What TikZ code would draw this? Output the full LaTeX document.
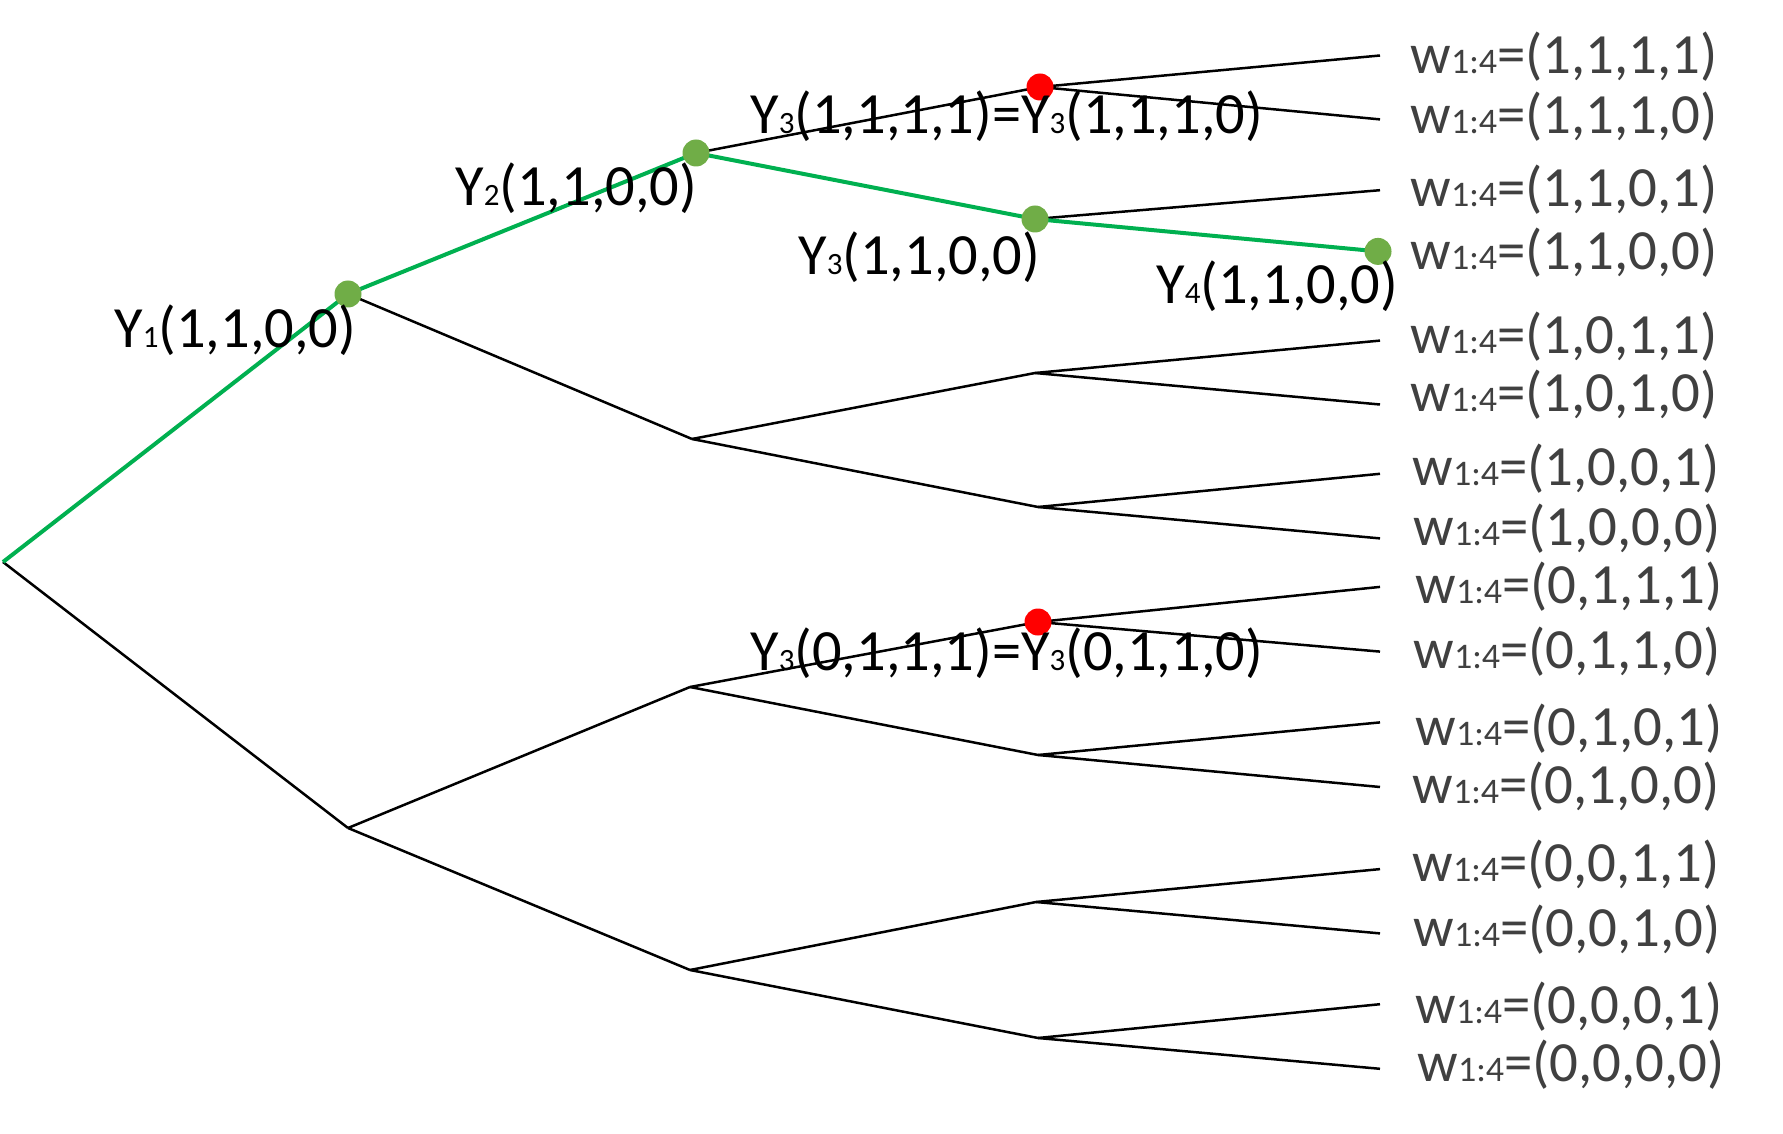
\documentclass[tikz,border=0pt]{standalone}
\usepackage{fontspec}
\setmainfont{Carlito}
\definecolor{pathgreen}{HTML}{00B050}
\definecolor{dotgreen}{HTML}{70AD47}
\definecolor{dotred}{HTML}{FF0000}
\definecolor{wgray}{HTML}{404040}
\newcommand{\ysb}[1]{{\fontsize{15.5}{15.5}\selectfont #1}}
\newcommand{\wsb}[1]{{\fontsize{18}{18}\selectfont #1}}
\begin{document}
\begin{tikzpicture}[x=0.5pt,y=-0.5pt,
  edge/.style={draw=black,line width=1.25pt},
  gedge/.style={draw=pathgreen,line width=2pt},
  gdot/.style={circle,fill=dotgreen,minimum size=13.5pt,inner sep=0pt},
  rdot/.style={circle,fill=dotred,minimum size=13.5pt,inner sep=0pt},
  ylab/.style={anchor=base west,inner sep=0pt,font=\fontsize{29.2}{34}\selectfont,text=black},
  wlab/.style={anchor=base west,inner sep=0pt,font=\fontsize{28.4}{34}\selectfont,text=wgray}]
\useasboundingbox (0,0) rectangle (1783,1134);
% tree points
\coordinate (r) at (3,562);
\coordinate (a1) at (348,294);
\coordinate (a0) at (348,828);
\coordinate (b11) at (696,153);
\coordinate (b10) at (692,439);
\coordinate (b01) at (690,687);
\coordinate (b00) at (690,970);
\coordinate (c111) at (1040,87);
\coordinate (c110) at (1035,219);
\coordinate (c101) at (1035,373);
\coordinate (c100) at (1038,507);
\coordinate (c011) at (1038,622);
\coordinate (c010) at (1038,755);
\coordinate (c001) at (1036,902);
\coordinate (c000) at (1038,1038);
\coordinate (l1111) at (1380,55.5);
\coordinate (l1110) at (1380,119.4);
\coordinate (l1101) at (1380,190.2);
\coordinate (l1100) at (1378,251.4);
\coordinate (l1011) at (1380,340.6);
\coordinate (l1010) at (1380,404.5);
\coordinate (l1001) at (1380,473.8);
\coordinate (l1000) at (1380,538.4);
\coordinate (l0111) at (1380,586.9);
\coordinate (l0110) at (1380,651.6);
\coordinate (l0101) at (1380,722.4);
\coordinate (l0100) at (1380,787);
\coordinate (l0011) at (1380,869.1);
\coordinate (l0010) at (1380,933.4);
\coordinate (l0001) at (1380,1004.2);
\coordinate (l0000) at (1380,1068.8);
% black edges
\draw[edge] (r) -- (a0);
\draw[edge] (a1) -- (b10);
\draw[edge] (a0) -- (b01);
\draw[edge] (a0) -- (b00);
\draw[edge] (b11) -- (c111);
\draw[edge] (b10) -- (c101);
\draw[edge] (b10) -- (c100);
\draw[edge] (b01) -- (c011);
\draw[edge] (b01) -- (c010);
\draw[edge] (b00) -- (c001);
\draw[edge] (b00) -- (c000);
\draw[edge] (c111) -- (l1111);
\draw[edge] (c111) -- (l1110);
\draw[edge] (c110) -- (l1101);
\draw[edge] (c101) -- (l1011);
\draw[edge] (c101) -- (l1010);
\draw[edge] (c100) -- (l1001);
\draw[edge] (c100) -- (l1000);
\draw[edge] (c011) -- (l0111);
\draw[edge] (c011) -- (l0110);
\draw[edge] (c010) -- (l0101);
\draw[edge] (c010) -- (l0100);
\draw[edge] (c001) -- (l0011);
\draw[edge] (c001) -- (l0010);
\draw[edge] (c000) -- (l0001);
\draw[edge] (c000) -- (l0000);
% green path
\draw[gedge,line join=round] (r) -- (a1) -- (b11) -- (c110) -- (l1100);
% dots
\node[gdot] (d1) at (a1) {};
\node[gdot] (d2) at (b11) {};
\node[gdot] (d3) at (c110) {};
\node[gdot] (d4) at (l1100) {};
\node[rdot] (e1) at (c111) {};
\node[rdot] (e2) at (c011) {};
% Y labels
\node[ylab] (y1) at (114,348) {Y\ysb{1}(1,1,0,0)};
\node[ylab] (y2) at (455,206) {Y\ysb{2}(1,1,0,0)};
\node[ylab] (y3a) at (750,134) {Y\ysb{3}(1,1,1,1)=Y\ysb{3}(1,1,1,0)};
\node[ylab] (y3b) at (798,275) {Y\ysb{3}(1,1,0,0)};
\node[ylab] (y4) at (1156,304) {Y\ysb{4}(1,1,0,0)};
\node[ylab] (y3c) at (750,670) {Y\ysb{3}(0,1,1,1)=Y\ysb{3}(0,1,1,0)};
% w labels
\node[wlab] (w1111) at (1410,73.3) {w\wsb{1:4}=(1,1,1,1)};
\node[wlab] (w1110) at (1410,133.3) {w\wsb{1:4}=(1,1,1,0)};
\node[wlab] (w1101) at (1410,206.7) {w\wsb{1:4}=(1,1,0,1)};
\node[wlab] (w1100) at (1410,270) {w\wsb{1:4}=(1,1,0,0)};
\node[wlab] (w1011) at (1410,353.3) {w\wsb{1:4}=(1,0,1,1)};
\node[wlab] (w1010) at (1410,411.7) {w\wsb{1:4}=(1,0,1,0)};
\node[wlab] (w1001) at (1412,485) {w\wsb{1:4}=(1,0,0,1)};
\node[wlab] (w1000) at (1413,545) {w\wsb{1:4}=(1,0,0,0)};
\node[wlab] (w0111) at (1415,603.3) {w\wsb{1:4}=(0,1,1,1)};
\node[wlab] (w0110) at (1413,668.3) {w\wsb{1:4}=(0,1,1,0)};
\node[wlab] (w0101) at (1415,745) {w\wsb{1:4}=(0,1,0,1)};
\node[wlab] (w0100) at (1412,803.3) {w\wsb{1:4}=(0,1,0,0)};
\node[wlab] (w0011) at (1412,881.7) {w\wsb{1:4}=(0,0,1,1)};
\node[wlab] (w0010) at (1413,946.7) {w\wsb{1:4}=(0,0,1,0)};
\node[wlab] (w0001) at (1415,1023.3) {w\wsb{1:4}=(0,0,0,1)};
\node[wlab] (w0000) at (1417,1081.7) {w\wsb{1:4}=(0,0,0,0)};
\end{tikzpicture}
\end{document}
